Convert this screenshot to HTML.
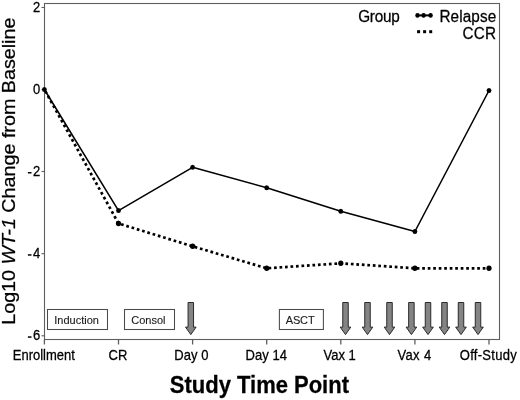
<!DOCTYPE html>
<html><head><meta charset="utf-8"><style>
html,body{margin:0;padding:0;background:#fff;width:520px;height:400px;overflow:hidden}
svg{display:block;will-change:transform}
text{font-family:"Liberation Sans",sans-serif;fill:#000;stroke:#000;stroke-width:0.25px}
</style></head><body>
<svg width="520" height="400" viewBox="0 0 520 400">
<rect width="520" height="400" fill="#fff"/>
<rect x="44.5" y="3.5" width="455" height="336" fill="none" stroke="#5e5e5e" stroke-width="1.1"/>
<g stroke="#5e5e5e" stroke-width="1.1">
<line x1="41.5" y1="7.5" x2="44.5" y2="7.5"/>
<line x1="41.5" y1="89.5" x2="44.5" y2="89.5"/>
<line x1="41.5" y1="171.5" x2="44.5" y2="171.5"/>
<line x1="41.5" y1="253.7" x2="44.5" y2="253.7"/>
<line x1="41.5" y1="335.8" x2="44.5" y2="335.8"/>
</g>
<g stroke="#5e5e5e" stroke-width="1.3">
<line x1="44.4" y1="339.5" x2="44.4" y2="344.5"/>
<line x1="118.5" y1="339.5" x2="118.5" y2="344.5"/>
<line x1="192.6" y1="339.5" x2="192.6" y2="344.5"/>
<line x1="266.7" y1="339.5" x2="266.7" y2="344.5"/>
<line x1="340.8" y1="339.5" x2="340.8" y2="344.5"/>
<line x1="414.9" y1="339.5" x2="414.9" y2="344.5"/>
<line x1="489.0" y1="339.5" x2="489.0" y2="344.5"/>
</g>
<text transform="translate(40.3,12.1) scale(1,1.07)" font-size="13" text-anchor="end">2</text>
<text transform="translate(40.3,94.1) scale(1,1.07)" font-size="13" text-anchor="end">0</text>
<text transform="translate(40.3,176.1) scale(1,1.07)" font-size="13" text-anchor="end">2</text>
<rect x="27.9" y="172.0" width="3.6" height="1.5" fill="#000"/>
<text transform="translate(40.3,258.3) scale(1,1.07)" font-size="13" text-anchor="end">4</text>
<rect x="27.9" y="254.2" width="3.6" height="1.5" fill="#000"/>
<text transform="translate(40.3,340.40000000000003) scale(1,1.07)" font-size="13" text-anchor="end">6</text>
<rect x="27.9" y="336.3" width="3.6" height="1.5" fill="#000"/>
<text transform="translate(43.8,359.6) scale(1,1.07)" font-size="13" text-anchor="middle">Enrollment</text>
<text transform="translate(118.0,359.6) scale(1,1.07)" font-size="13" text-anchor="middle">CR</text>
<text transform="translate(191.45,359.6) scale(1,1.07)" font-size="13" text-anchor="middle" letter-spacing="0.1">Day 0</text>
<text transform="translate(266.27,359.6) scale(1,1.07)" font-size="13" text-anchor="middle" letter-spacing="0.05">Day 14</text>
<text transform="translate(339.65,359.6) scale(1,1.07)" font-size="13" text-anchor="middle">Vax 1</text>
<text transform="translate(414.48,359.6) scale(1,1.07)" font-size="13" text-anchor="middle" letter-spacing="0.35">Vax 4</text>
<text transform="translate(488.4,359.6) scale(1,1.07)" font-size="13" text-anchor="middle" letter-spacing="0.3">Off-Study</text>
<text transform="translate(259.4,393.2) scale(1,1.066)" font-size="22" text-anchor="middle" font-weight="bold">Study Time Point</text>
<text transform="translate(15.4,171.2) rotate(-90) scale(1.066,1)" font-size="18.5" text-anchor="middle">Log10 <tspan font-style="italic">WT-1</tspan> Change from Baseline</text>
<polyline points="44.4,89.5 118.5,223.5 192.6,246.3 266.7,268.3 340.8,263.3 414.9,268.3 489.0,268.3" fill="none" stroke="#000" stroke-width="2.7" stroke-dasharray="2.7 2.8" stroke-dashoffset="-1.8"/>
<polyline points="44.4,89.5 118.5,210.6 192.6,167.3 266.7,187.7 340.8,211.3 414.9,231.5 489.0,90.5" fill="none" stroke="#000" stroke-width="1.55" stroke-linejoin="round"/>
<g fill="#000">
<ellipse cx="44.4" cy="89.5" rx="2.4" ry="2.5"/>
<ellipse cx="118.5" cy="210.6" rx="2.4" ry="2.5"/>
<ellipse cx="192.6" cy="167.3" rx="2.4" ry="2.5"/>
<ellipse cx="266.7" cy="187.7" rx="2.4" ry="2.5"/>
<ellipse cx="340.8" cy="211.3" rx="2.4" ry="2.5"/>
<ellipse cx="414.9" cy="231.5" rx="2.4" ry="2.5"/>
<ellipse cx="489.0" cy="90.5" rx="2.4" ry="2.5"/>
<ellipse cx="118.5" cy="223.5" rx="2.6" ry="2.7"/>
<ellipse cx="192.6" cy="246.3" rx="2.6" ry="2.7"/>
<ellipse cx="266.7" cy="268.3" rx="2.6" ry="2.7"/>
<ellipse cx="340.8" cy="263.3" rx="2.6" ry="2.7"/>
<ellipse cx="414.9" cy="268.3" rx="2.6" ry="2.7"/>
<ellipse cx="489.0" cy="268.3" rx="2.6" ry="2.7"/>
</g>
<text transform="translate(378.9,21.8) scale(1,1.02)" font-size="15.3" text-anchor="middle" letter-spacing="-0.2">Group</text>
<line x1="416" y1="15.4" x2="432" y2="15.4" stroke="#000" stroke-width="2"/>
<g fill="#000"><ellipse cx="417.5" cy="15.4" rx="2.2" ry="2.3"/><ellipse cx="423.6" cy="15.4" rx="2.2" ry="2.3"/><ellipse cx="430.6" cy="15.4" rx="2.2" ry="2.3"/></g>
<g fill="#000"><rect x="417.1" y="30.2" width="3" height="3"/><rect x="423.1" y="30.2" width="3" height="3"/><rect x="429.2" y="30.2" width="3" height="3"/></g>
<text transform="translate(467.85,21.8) scale(1,1.02)" font-size="15.3" text-anchor="middle" letter-spacing="0.1">Relapse</text>
<text transform="translate(479.47,39.3) scale(1,1.02)" font-size="15.3" text-anchor="middle" letter-spacing="0.25">CCR</text>
<g fill="#fff" stroke="#4a4a4a" stroke-width="1.05">
<rect x="47.5" y="309.5" width="60" height="20"/>
<rect x="124.5" y="309.5" width="50" height="20"/>
<rect x="279.4" y="309.5" width="44" height="20"/>
</g>
<text transform="translate(76.55,323.8) scale(1,1.07)" font-size="11" text-anchor="middle" style="fill:#1a1a1a;stroke:#1a1a1a;stroke-width:0.12px">Induction</text>
<text transform="translate(148.4,323.5) scale(1,1.07)" font-size="11" text-anchor="middle" style="fill:#1a1a1a;stroke:#1a1a1a;stroke-width:0.12px">Consol</text>
<text transform="translate(300.1,323.6) scale(1,1.07)" font-size="11" text-anchor="middle" letter-spacing="-0.15" style="fill:#1a1a1a;stroke:#1a1a1a;stroke-width:0.12px">ASCT</text>
<g fill="#848484" stroke="#2a2a2a" stroke-width="1">
<path transform="translate(190.8,302.5)" d="M-2.75,0 L2.75,0 L2.75,24.6 L5.3,24.6 L0,32.1 L-5.3,24.6 L-2.75,24.6 Z"/>
<path transform="translate(345.5,302.5)" d="M-2.75,0 L2.75,0 L2.75,24.6 L5.3,24.6 L0,32.1 L-5.3,24.6 L-2.75,24.6 Z"/>
<path transform="translate(367.5,302.5)" d="M-2.75,0 L2.75,0 L2.75,24.6 L5.3,24.6 L0,32.1 L-5.3,24.6 L-2.75,24.6 Z"/>
<path transform="translate(389.5,302.5)" d="M-2.75,0 L2.75,0 L2.75,24.6 L5.3,24.6 L0,32.1 L-5.3,24.6 L-2.75,24.6 Z"/>
<path transform="translate(411.4,302.5)" d="M-2.75,0 L2.75,0 L2.75,24.6 L5.3,24.6 L0,32.1 L-5.3,24.6 L-2.75,24.6 Z"/>
<path transform="translate(428,302.5)" d="M-2.75,0 L2.75,0 L2.75,24.6 L5.3,24.6 L0,32.1 L-5.3,24.6 L-2.75,24.6 Z"/>
<path transform="translate(444.5,302.5)" d="M-2.75,0 L2.75,0 L2.75,24.6 L5.3,24.6 L0,32.1 L-5.3,24.6 L-2.75,24.6 Z"/>
<path transform="translate(461,302.5)" d="M-2.75,0 L2.75,0 L2.75,24.6 L5.3,24.6 L0,32.1 L-5.3,24.6 L-2.75,24.6 Z"/>
<path transform="translate(478,302.5)" d="M-2.75,0 L2.75,0 L2.75,24.6 L5.3,24.6 L0,32.1 L-5.3,24.6 L-2.75,24.6 Z"/>
</g>
</svg>
</body></html>
